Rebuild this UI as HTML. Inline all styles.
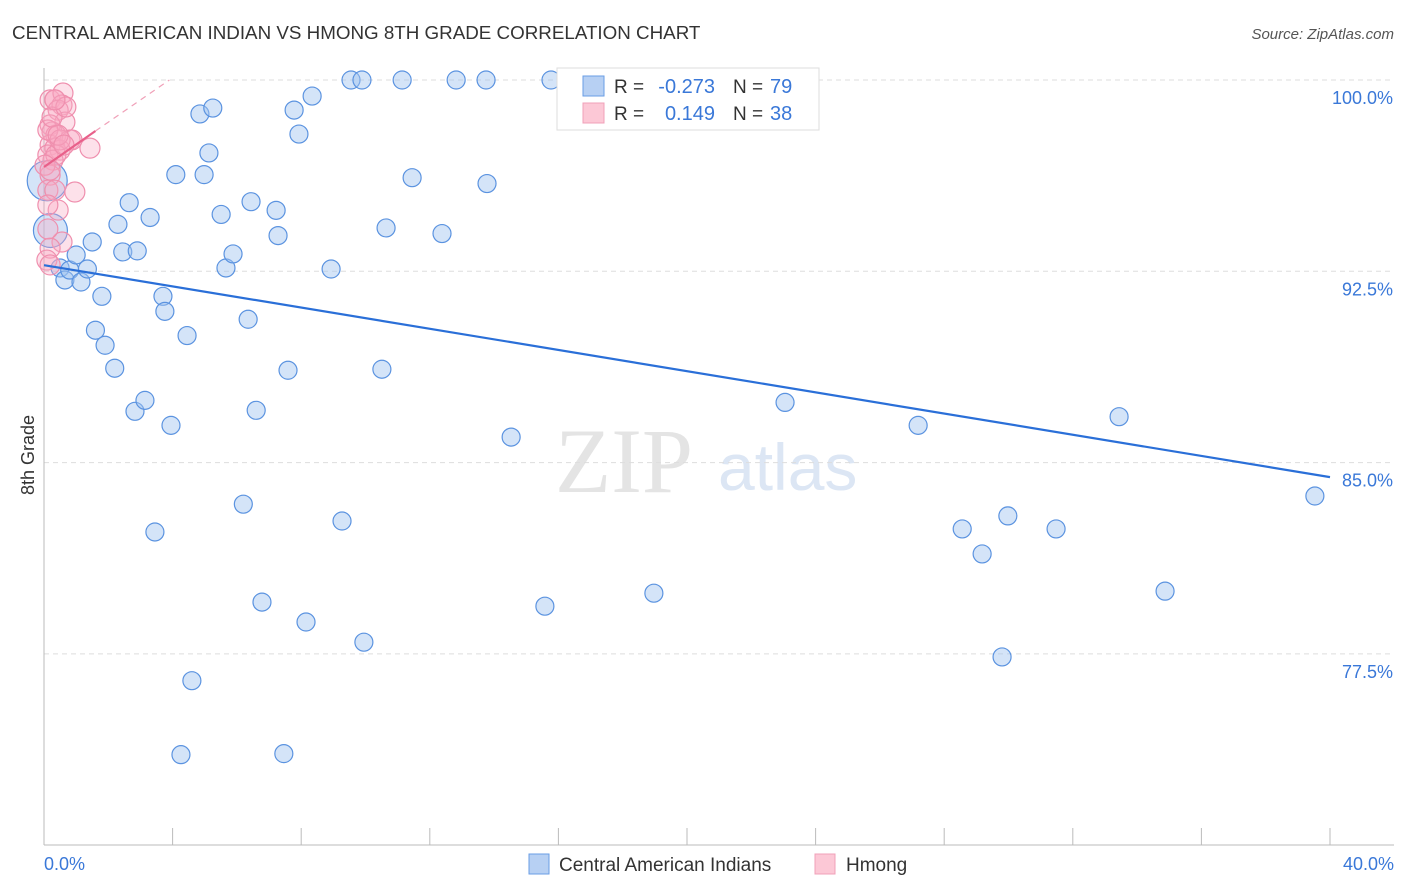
<!DOCTYPE html>
<html><head><meta charset="utf-8"><style>
body{margin:0;background:#fff;font-family:"Liberation Sans",sans-serif;}
</style></head><body>
<svg id="chart" width="1406" height="892" style="display:block">
<text x="12" y="39" font-size="18.8" fill="#333">CENTRAL AMERICAN INDIAN VS HMONG 8TH GRADE CORRELATION CHART</text>
<text x="1394" y="39" font-size="15" fill="#555" font-style="italic" text-anchor="end">Source: ZipAtlas.com</text>
<text x="555" y="492" font-size="92" fill="#e4e4e4" font-family="Liberation Serif">ZIP</text>
<text x="718" y="490" font-size="66" fill="#dce6f4">atlas</text>
<g id="grid"></g><g id="axes"></g><g id="pts"></g><g id="lines"></g>
<text transform="translate(34,455) rotate(-90)" font-size="18" fill="#333" text-anchor="middle">8th Grade</text>
<text x="44" y="870" font-size="18" fill="#3a78d8">0.0%</text>
<text x="1394" y="870" font-size="18" fill="#3a78d8" text-anchor="end">40.0%</text>
<g>
<rect x="557" y="68" width="262" height="62" fill="#fff" stroke="#ddd"/>
<rect x="583" y="76" width="21" height="20" fill="#b7d0f3" stroke="#6a9ee6"/>
<rect x="583" y="103" width="21" height="20" fill="#fcc8d6" stroke="#f0a0b8"/>
<text x="614" y="93" font-size="19" fill="#333">R = </text><text x="715" y="93" font-size="20" fill="#3a78d8" text-anchor="end">-0.273</text>
<text x="733" y="93" font-size="19" fill="#333">N = </text><text x="770" y="93" font-size="20" fill="#3a78d8">79</text>
<text x="614" y="120" font-size="19" fill="#333">R = </text><text x="715" y="120" font-size="20" fill="#3a78d8" text-anchor="end">0.149</text>
<text x="733" y="120" font-size="19" fill="#333">N = </text><text x="770" y="120" font-size="20" fill="#3a78d8">38</text>
</g>
<g>
<rect x="529" y="854" width="20" height="20" fill="#b7d0f3" stroke="#6a9ee6"/>
<text x="559" y="871" font-size="19" fill="#333">Central American Indians</text>
<rect x="815" y="854" width="20" height="20" fill="#fcc8d6" stroke="#f0a0b8"/>
<text x="846" y="871" font-size="19" fill="#333">Hmong</text>
</g>
</svg>
<script>
const yTicks=[100,92.5,85,77.5];
const yTickLabels=["100.0%","92.5%","85.0%","77.5%"];
const blueX=[0.2,0.1,0.5,0.65,0.8,1.0,1.15,1.35,1.5,1.8,1.6,1.9,2.2,2.3,2.45,2.65,2.9,3.3,2.83,3.14,3.7,3.76,3.95,4.1,4.45,4.6,4.26,3.45,4.85,5.25,5.13,4.98,5.51,5.66,5.88,6.35,6.2,6.44,6.6,6.78,7.22,7.28,7.59,7.46,7.78,7.93,8.34,8.15,8.93,9.27,9.55,9.89,9.95,10.51,10.64,11.14,11.45,12.38,12.82,13.75,13.78,14.53,15.58,15.77,18.2,18.97,22.27,23.05,27.19,28.56,29.18,29.8,29.98,31.48,33.44,34.87,39.53];
const blueY=[94.1,96.05,92.63,92.16,92.55,93.14,92.08,92.59,93.65,91.52,90.19,89.6,88.7,94.34,93.26,95.19,93.3,94.61,87.01,87.44,91.52,90.93,86.46,96.29,89.98,76.45,73.55,82.28,98.67,98.9,97.14,96.29,94.73,92.63,93.18,90.62,83.37,95.23,87.05,79.53,94.89,93.9,88.62,73.59,98.82,97.88,99.37,78.75,92.59,82.71,100,100,77.96,88.66,94.2,100,96.17,93.98,100,100,95.94,86,79.37,100,100,79.88,100,87.36,86.46,82.4,81.42,77.38,82.91,82.4,86.8,79.96,83.69];
const pinkX=[0.19,0.34,0.59,0.56,0.44,0.65,0.19,0.25,0.37,0.81,0.87,0.19,0.34,0.5,0.12,0.28,1.43,0.19,0.12,0.34,0.96,0.44,0.12,0.56,0.19,0.09,0.19,0.37,0.12,0.25,0.68,0.5,0.03,0.12,0.34,0.44,0.62,0.19];
const pinkY=[99.22,99.22,99.49,99.02,98.82,98.35,98.24,97.96,97.84,97.65,97.65,97.45,97.33,97.25,97.06,96.86,97.33,96.27,95.68,95.68,95.61,94.9,95.1,93.65,93.41,92.94,92.75,97.06,98.04,98.55,98.94,97.65,96.66,94.16,99.22,97.84,97.45,96.47];
const bigBlue={0:17,1:20};
const ns="http://www.w3.org/2000/svg";
const X0=44,X1=1330,Y100=80,PX=191.3/7.5;
function sx(v){return X0+(X1-X0)*v/40;}
function sy(v){return Y100+(100-v)*PX;}
function mk(t,a,p){const e=document.createElementNS(ns,t);for(const k in a)e.setAttribute(k,a[k]);p.appendChild(e);return e;}
const grid=document.getElementById('grid'),axes=document.getElementById('axes'),pts=document.getElementById('pts'),lines=document.getElementById('lines');
yTicks.forEach((t,i)=>{
 const g=mk('line',{x1:44,x2:1394,y1:sy(t),y2:sy(t),stroke:'#ddd','stroke-dasharray':'5,4'},grid);
 
 
 const l=mk('text',{x:1393,y:sy(t)+24,'font-size':18,fill:'#3a78d8','text-anchor':'end'},axes);
 l.textContent=yTickLabels[i];
 
 
});
const ya=mk('line',{x1:44,x2:44,y1:68,y2:845,stroke:'#bbb'},axes);


const xa=mk('line',{x1:44,x2:1394,y1:845,y2:845,stroke:'#bbb'},axes);


for(let i=0;i<=10;i++){const t=mk('line',{x1:sx(i*4),x2:sx(i*4),y1:828,y2:845,stroke:'#bbb'},axes);
 
 }
blueX.forEach((v,i)=>{const c=mk('circle',{cx:sx(v),cy:sy(blueY[i]),r:bigBlue[i]||9,fill:'rgba(160,195,240,0.45)',stroke:'#5b93e0','stroke-width':1.2},pts);
 
 });
pinkX.forEach((v,i)=>{const c=mk('circle',{cx:sx(v),cy:sy(pinkY[i]),r:10,fill:'rgba(248,170,195,0.35)',stroke:'#ef8fae','stroke-width':1.2},pts);
 
 });
const bl=mk('line',{x1:sx(0),y1:sy(92.74),x2:sx(40),y2:sy(84.43),stroke:'#2a6fd8','stroke-width':2.2},lines);


const pl=mk('line',{x1:sx(0),y1:sy(96.59),x2:sx(1.6),y2:sy(98.0),stroke:'#e8608a','stroke-width':2.2},lines);


const pd=mk('line',{x1:sx(1.6),y1:sy(98.0),x2:sx(3.9),y2:sy(100),stroke:'#f0a0b8','stroke-width':1.2,'stroke-dasharray':'6,5'},lines);


</script>
</body></html>
